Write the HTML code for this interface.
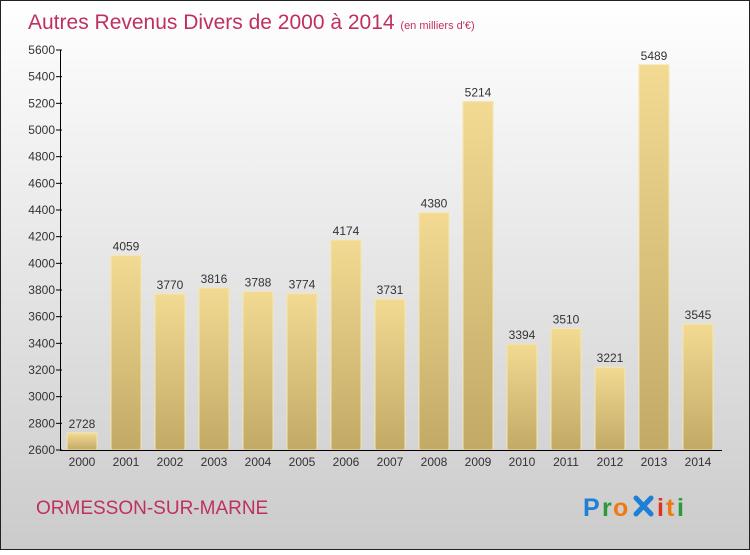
<!DOCTYPE html>
<html><head><meta charset="utf-8"><style>
body{margin:0;width:750px;height:550px;overflow:hidden;font-family:"Liberation Sans",sans-serif}
</style></head><body>
<svg id="c" width="750" height="550" xmlns="http://www.w3.org/2000/svg">
<defs>
<linearGradient id="bg" x1="0" y1="0" x2="0" y2="1"><stop offset="0" stop-color="#ffffff"/><stop offset="1" stop-color="#cbcbcb"/></linearGradient>
<linearGradient id="bar" x1="0" y1="0" x2="0" y2="1"><stop offset="0" stop-color="#f3da92"/><stop offset="1" stop-color="#c2a966"/></linearGradient>
</defs>
<rect x="0.5" y="0.5" width="749" height="549" fill="url(#bg)" stroke="#222"/>
<text x="28" y="29" font-size="21" fill="#c0305e">Autres Revenus Divers de 2000 à 2014 <tspan font-size="11">(en milliers d'€)</tspan></text>
<g id="plot"></g>
<text x="36" y="514" font-size="19" fill="#c0305e">ORMESSON-SUR-MARNE</text>
<g font-size="25" font-weight="bold">
<text x="583" y="516" fill="#1e7fd6">P</text><text x="602" y="516" fill="#2a9a3a">r</text><text x="613" y="516" fill="#f07a10">o</text>
<g stroke="#1e7fd6" stroke-width="5" stroke-linecap="round"><line x1="636" y1="498" x2="651" y2="514"/><line x1="651" y1="498" x2="636" y2="514"/></g>
<text x="657" y="516" fill="#e03020">i</text><text x="666" y="516" fill="#f07a10">t</text><text x="677" y="516" fill="#2a9a3a">i</text>
</g>
</svg>
<script>
const years=["2000","2001","2002","2003","2004","2005","2006","2007","2008","2009","2010","2011","2012","2013","2014"];
const values=[2728,4059,3770,3816,3788,3774,4174,3731,4380,5214,3394,3510,3221,5489,3545];
const ticks=[2600,2800,3000,3200,3400,3600,3800,4000,4200,4400,4600,4800,5000,5200,5400,5600];
const NS="http://www.w3.org/2000/svg";
const g=document.getElementById('plot');
const y=v=>450-(v-2600)*400/3000;
const x=i=>82+i*44;
function el(t,a,txt){const e=document.createElementNS(NS,t);for(const k in a)e.setAttribute(k,a[k]);if(txt!==undefined)e.textContent=txt;g.appendChild(e);return e;}
ticks.forEach(t=>{
  const l=el('line',{x1:56,x2:62,y1:y(t),y2:y(t),stroke:'#000'});
  
  
  const s=el('text',{x:55,y:y(t)+4,'font-size':12,fill:'#333','text-anchor':'end'},t);
  
  
});
values.forEach((v,i)=>{
  const r=el('rect',{x:x(i)-15,y:y(v),width:30,height:450-y(v),fill:'url(#bar)',stroke:'#f5e6b0','stroke-width':1});
  
  
  const t=el('text',{x:x(i),y:y(v)-5,'font-size':12,fill:'#333','text-anchor':'middle'},v);
  
  
  const xl=el('text',{x:x(i),y:466,'font-size':12,fill:'#333','text-anchor':'middle'},years[i]);
  
  
});
const ya=el('line',{x1:60.5,x2:60.5,y1:50,y2:451,stroke:'#000'});


const xa=el('line',{x1:60,x2:722,y1:450.5,y2:450.5,stroke:'#000'});


</script>
</body></html>
